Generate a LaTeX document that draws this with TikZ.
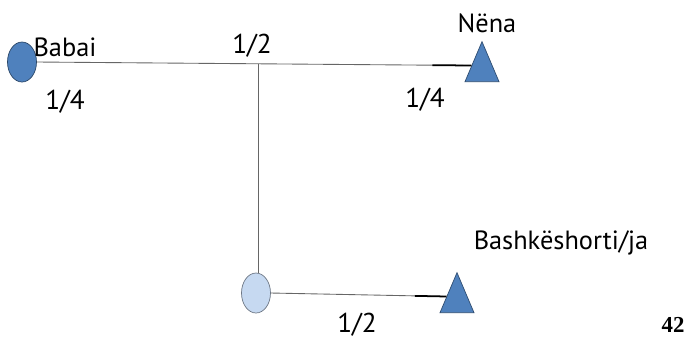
\documentclass[tikz,border=0pt]{standalone}
\usepackage{fontspec}
\setmainfont{PT Sans}
\newfontfamily\pagefont{Liberation Serif}
\usetikzlibrary{shapes.geometric, calc}
\definecolor{darkblue}{HTML}{4F81BD}
\definecolor{lightblue}{HTML}{C6D9F1}
\begin{document}
\begin{tikzpicture}[x=0.02cm, y=-0.02cm,
    female/.style={ellipse, draw=#1!55!black, fill=#1, inner sep=0pt,
                   minimum width=0.58cm, minimum height=0.8cm},
    male/.style={isosceles triangle, shape border rotate=90,
                 isosceles triangle stretches, draw=darkblue!60!black,
                 fill=darkblue, inner sep=0pt, anchor=south,
                 minimum height=0.8cm, minimum width=0.68cm},
    personname/.style={font=\fontsize{15}{18}\selectfont},
    sharetext/.style={font=\fontsize{15.5}{18}\selectfont},
    link/.style={gray!80!black, line width=0.5pt}]

    \useasboundingbox (0,0) rectangle (686,343);

    % persons
    \node[female=darkblue] (babai) at (22,62) {};
    \node[male] (nena) at (482,82) {};
    \node[female=lightblue] (femija) at (256,293) {};
    \node[male] (bashkeshort) at (457,313) {};
    \coordinate (nenain) at ($(nena.apex)!0.6!(nena.left corner)$);
    \coordinate (bashkin) at ($(bashkeshort.apex)!0.6!(bashkeshort.left corner)$);

    % names
    \node[personname] (lbabai) at (65,47) {Babai};
    \node[personname] (lnena) at (487,23) {Nëna};
    \node[personname] (lbashk) at (561,243) {Bashkëshorti/ja};

    % shares
    \node[sharetext] (s1) at (252,46) {1/2};
    \node[sharetext] (s2) at (65,102) {1/4};
    \node[sharetext] (s3) at (425,100) {1/4};
    \node[sharetext] (s4) at (357,325) {1/2};

    % lines
    \draw[link] (babai.east) -- (nenain) coordinate[pos=0.51] (top);
    \draw[black, line width=1pt] ($(babai.east)!0.91!(nenain)$) -- (nenain);
    \draw[link] (top) -- (top |- femija.north);
    \draw[link] (femija.east) -- (bashkin);
    \draw[black, line width=1pt] ($(femija.east)!0.82!(bashkin)$) -- (bashkin);

    % page number
    \node[font=\pagefont\bfseries\fontsize{13}{15}\selectfont] (page) at (673,325) {42};

\end{tikzpicture}
\end{document}
